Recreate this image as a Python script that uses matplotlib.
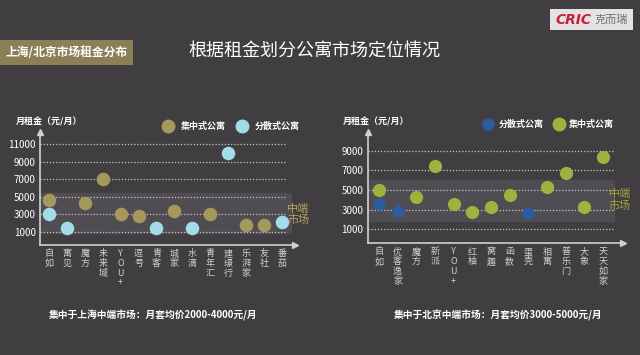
import matplotlib.pyplot as plt
from matplotlib.patches import Rectangle

plt.rcParams['font.family'] = ['Noto Sans CJK SC', 'DejaVu Sans']

# Shanghai data
sh_names = ["自如", "寓见", "魔方", "未来域", "YOU+", "逗号", "青客", "城家", "水滴",
            "青年汇", "建璟行", "乐湃家", "友社", "番茄"]
sh_central = [4650, None, 4250, 7050, 3050, 2850, None, 3400, None, 3100, None, 1800, 1800, None]
sh_scatter = [3100, 1450, None, None, None, None, 1450, None, 1450, None, 10000, None, None, 2150]

# Beijing data
bj_names = ["自如", "优客逸家", "魔方", "新派", "YOU+", "红柚", "窝趣", "函数", "蛋壳",
            "相寓", "普乐门", "大象", "天天如家"]
bj_scatter = [3550, 2850, None, None, None, None, None, None, 2650, None, None, None, None]
bj_central = [4950, None, 4300, 7450, 3550, 2800, 3300, 4500, None, 5350, 6750, 3250, 8400]

bg = "#413e42"
band_col = "#504d52"
gold = "#a6985b"
lightblue = "#a3dbe8"
green = "#9fb23d"
darkblue = "#2c5c9e"
W, H = 640, 355


def px(x0, y0, x1, y1):
    # pixel box (top-left origin) -> figure fraction rect
    return [x0 / W, 1 - y1 / H, (x1 - x0) / W, (y1 - y0) / H]


def vlabel(s):
    if s == "YOU+":
        return "Y\nO\nU\n+"
    return "\n".join(s)


def panel(ax, names, series, grid_vals, ylim, grid_end, band, band_end, band_label, label_xy, label_col):
    n = len(names)
    xs = list(range(n))
    ax.set_facecolor(bg)
    x0, x1 = ax.get_xlim()
    ax.axhspan(band[0], band[1], xmin=0, xmax=(band_end - x0) / (x1 - x0), color=band_col, zorder=0)
    for g in grid_vals:
        ax.plot([x0, grid_end], [g, g], ls=(0, (1, 1.5)), color="#c8c8c8", lw=0.9, zorder=1)
    for vals, col, s in series:
        px_ = [x for x, v in zip(xs, vals) if v is not None]
        py_ = [v for v in vals if v is not None]
        ax.scatter(px_, py_, s=s, color=col, zorder=3, linewidths=0)
    ax.set_ylim(*ylim)
    ax.set_yticks(grid_vals)
    ax.set_yticklabels([str(g) for g in grid_vals], color="white", fontsize=7)
    ax.set_xticks(xs)
    ax.set_xticklabels([vlabel(s) for s in names], color="#d0d0d0", fontsize=6.5,
                       va="top", linespacing=1.1)
    ax.tick_params(length=0, pad=3)
    for sp in ["top", "right"]:
        ax.spines[sp].set_visible(False)
    for sp in ["left", "bottom"]:
        ax.spines[sp].set_color("#d0d0d0")
        ax.spines[sp].set_linewidth(1.2)
    ax.plot(1, 0, ">", color="#d0d0d0", ms=4, transform=ax.transAxes, clip_on=False)
    ax.plot(0, 1, "^", color="#d0d0d0", ms=4, transform=ax.transAxes, clip_on=False)
    ax.text(label_xy[0], label_xy[1], band_label, color=label_col, fontsize=8, ha="center", va="center",
            linespacing=1.1, clip_on=False)


fig = plt.figure(figsize=(6.4, 3.55), dpi=100, facecolor=bg)

# header
fig.patches.append(Rectangle((0, 1 - 65 / H), 133 / W, 25 / H, transform=fig.transFigure,
                             facecolor="#8b7f58", edgecolor="none"))
fig.text(5 / W, 1 - 53 / H, "上海/北京市场租金分布", color="white", fontsize=8.5, fontweight="bold", va="center")
fig.text(188 / W, 1 - 51 / H, "根据租金划分公寓市场定位情况", color="white", fontsize=13, va="center")
fig.patches.append(Rectangle((550 / W, 1 - 30 / H), 83 / W, 21 / H, transform=fig.transFigure,
                             facecolor="#e4e2e4", edgecolor="none"))
fig.text(555 / W, 1 - 20 / H, "CRIC", color="#c8203a", fontsize=10, fontweight="bold", style="italic",
         va="center", family="DejaVu Sans")
fig.text(595 / W, 1 - 20 / H, "克而瑞", color="#707070", fontsize=8, va="center")

# Shanghai panel
ax1 = fig.add_axes(px(40, 131.7, 295, 245))
ax1.set_xlim(-0.5, 13.73)
panel(ax1, sh_names, [(sh_central, gold, 95), (sh_scatter, lightblue, 95)],
      [1000, 3000, 5000, 7000, 9000, 11000], (-500, 12450), 13.17, (850, 5400), 13.5,
      "中端\n市场", (13.9, 3000), "#b3a25c")
fig.text(16 / W, 1 - 122 / H, "月租金（元/月）", color="white", fontsize=6.5, fontweight="bold", va="center")
fig.lines.append(plt.Line2D([168 / W], [1 - 126 / H], marker="o", ms=9, color=gold, lw=0, transform=fig.transFigure))
fig.text(181 / W, 1 - 126 / H, "集中式公寓", color="white", fontsize=6.5, fontweight="bold", va="center")
fig.lines.append(plt.Line2D([242 / W], [1 - 126 / H], marker="o", ms=9, color=lightblue, lw=0, transform=fig.transFigure))
fig.text(255 / W, 1 - 126 / H, "分散式公寓", color="white", fontsize=6.5, fontweight="bold", va="center")

# Beijing panel
ax2 = fig.add_axes(px(367.7, 131.7, 623, 243.3))
ax2.set_xlim(-0.6, 13.07)
panel(ax2, bj_names, [(bj_scatter, darkblue, 80), (bj_central, green, 90)],
      [1000, 3000, 5000, 7000, 9000], (-430, 10930), 12.54, (1800, 6000), 12.6,
      "中端\n市场", (12.9, 4000), "#a3a23e")
fig.text(343 / W, 1 - 122 / H, "月租金（元/月）", color="white", fontsize=6.5, fontweight="bold", va="center")
fig.lines.append(plt.Line2D([488 / W], [1 - 124 / H], marker="o", ms=8, color=darkblue, lw=0, transform=fig.transFigure))
fig.text(499 / W, 1 - 124 / H, "分散式公寓", color="white", fontsize=6.5, fontweight="bold", va="center")
fig.lines.append(plt.Line2D([559 / W], [1 - 124 / H], marker="o", ms=9, color=green, lw=0, transform=fig.transFigure))
fig.text(569 / W, 1 - 124 / H, "集中式公寓", color="white", fontsize=6.5, fontweight="bold", va="center")

# bottom captions
fig.text(153 / W, 1 - 315 / H, "集中于上海中端市场：月套均价2000-4000元/月", color="white",
         fontsize=7, fontweight="bold", ha="center", va="center")
fig.text(498 / W, 1 - 315 / H, "集中于北京中端市场：月套均价3000-5000元/月", color="white",
         fontsize=7, fontweight="bold", ha="center", va="center")

fig.savefig("out.png", dpi=100, facecolor=bg)
